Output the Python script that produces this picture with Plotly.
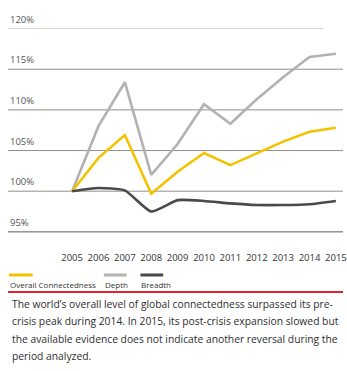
import plotly.graph_objects as go

years = list(range(2005, 2016))
overall = [100.0, 104.1, 106.9, 99.7, 102.4, 104.7, 103.2, 104.6, 106.1, 107.3, 107.8]
depth = [100.0, 108.0, 113.4, 102.0, 105.8, 110.7, 108.3, 111.3, 114.0, 116.5, 116.9]
breadth = [100.0, 100.4, 100.1, 97.5, 98.9, 98.8, 98.5, 98.3, 98.3, 98.4, 98.8]

y_ticks = [95, 100, 105, 110, 115, 120]
y_tick_labels = ["95%", "100%", "105%", "110%", "115%", "120%"]

series_names = ["Overall Connectedness", "Depth", "Breadth"]
series_colors = ["#f3c300", "#b3b1b1", "#4b4949"]

caption_lines = [
    "The world\u2019s overall level of global connectedness surpassed its pre-",
    "crisis peak during 2014. In 2015, its post-crisis expansion slowed but",
    "the available evidence does not indicate another reversal during the",
    "period analyzed.",
]

FONT = "Open Sans"
W, H = 347, 371
M_L, M_R, M_T, M_B = 8, 0, 20, 131

fig = go.Figure()

# gridlines drawn under the data
for t in y_ticks:
    if t == 120:
        col, x1 = "#d6d3d1", 0.94
    elif t == 95:
        col, x1 = "#5e5a58", 1.0
    else:
        col, x1 = "#948e8a", 1.0
    fig.add_shape(type="line", xref="paper", yref="y", x0=0, x1=x1, y0=t, y1=t,
                  line=dict(color=col, width=1), layer="below")

fig.add_trace(go.Scatter(x=years, y=depth, mode="lines", name=series_names[1],
                         line=dict(color=series_colors[1], width=2.6)))
fig.add_trace(go.Scatter(x=years, y=overall, mode="lines", name=series_names[0],
                         line=dict(color=series_colors[0], width=2.6)))
fig.add_trace(go.Scatter(x=years, y=breadth, mode="lines", name=series_names[2],
                         line=dict(color=series_colors[2], width=2.6, shape="spline",
                                   smoothing=0.5)))

annotations = []
for t, lab in zip(y_ticks, y_tick_labels):
    annotations.append(dict(x=0, xref="paper", y=t, yref="y", text=lab, showarrow=False,
                            xanchor="left", yanchor="bottom", yshift=1,
                            font=dict(family=FONT, size=9.5, color="#555")))

# legend: colour bar above each label
legend_x = [9, 105, 142]
legend_w = [24, 23, 23]
for name, col, lx, lw in zip(series_names, series_colors, legend_x, legend_w):
    fig.add_shape(type="line", xref="paper", yref="paper",
                  x0=(lx - M_L) / (W - M_L - M_R), x1=(lx + lw - M_L) / (W - M_L - M_R),
                  y0=(H - M_B - 275) / (H - M_T - M_B), y1=(H - M_B - 275) / (H - M_T - M_B),
                  line=dict(color=col, width=3))
    annotations.append(dict(x=(lx - 1 - M_L) / (W - M_L - M_R), xref="paper",
                            y=(H - M_B - 284) / (H - M_T - M_B), yref="paper",
                            text=name, showarrow=False, xanchor="left", yanchor="middle",
                            font=dict(family=FONT, size=8, color="#333")))

# red rule
ry = (H - M_B - 292) / (H - M_T - M_B)
fig.add_shape(type="line", xref="paper", yref="paper", x0=0, x1=1, y0=ry, y1=ry,
              line=dict(color="#e2232b", width=2))

for i, line in enumerate(caption_lines):
    cy = 304 + i * 17.3
    annotations.append(dict(x=(10 - M_L) / (W - M_L - M_R), xref="paper",
                            y=(H - M_B - cy) / (H - M_T - M_B), yref="paper",
                            text=line, showarrow=False, xanchor="left", yanchor="middle",
                            font=dict(family=FONT, size=10.3, color="#2d2d2d")))

fig.update_layout(
    width=W, height=H,
    margin=dict(l=M_L, r=M_R, t=M_T, b=M_B),
    paper_bgcolor="white", plot_bgcolor="white",
    showlegend=False,
    annotations=annotations,
    xaxis=dict(range=[2002.57, 2015.27], tickvals=years, ticktext=[str(y) for y in years],
               showgrid=False, zeroline=False, showline=False, ticks="",
               tickfont=dict(family=FONT, size=9.5, color="#333"), ticklabelstandoff=10,
               ticklabeloverflow="allow"),
    yaxis=dict(range=[94.0, 121.05], showgrid=False, zeroline=False, showline=False,
               showticklabels=False),
)

fig.write_html("out.html")
